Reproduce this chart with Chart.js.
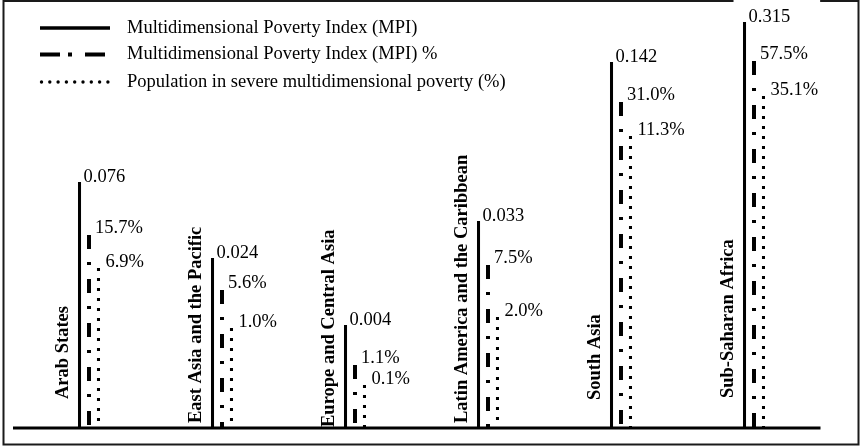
<!DOCTYPE html>
<html lang="en">
<head>
  <meta charset="UTF-8">
  <title>Multidimensional poverty by region</title>
  <script src="https://cdn.jsdelivr.net/npm/chart.js"></script>
  <style>
    body { margin: 0; background: #fff; }
    canvas { display: block; }
  </style>
</head>
<body>
  <canvas id="mpiChart" width="860" height="447"></canvas>

  <script>
    // regions and series
    const regions = ['Arab States', 'East Asia and the Pacific', 'Europe and Central Asia',
      'Latin America and the Caribbean', 'South Asia', 'Sub-Saharan Africa'];
    const seriesNames = ['Multidimensional Poverty Index (MPI)',
      'Multidimensional Poverty Index (MPI) %',
      'Population in severe multidimensional poverty (%)'];

    // printed values
    const mpiLabels = ['0.076', '0.024', '0.004', '0.033', '0.142', '0.315'];
    const mpiPctLabels = ['15.7%', '5.6%', '1.1%', '7.5%', '31.0%', '57.5%'];
    const severeLabels = ['6.9%', '1.0%', '0.1%', '2.0%', '11.3%', '35.1%'];

    // drawn line heights - the original is not to scale, so these are read off the picture
    const mpiHeights = [246, 170, 103, 207, 366, 406];
    const mpiPctHeights = [193, 138, 63, 163, 326, 367];
    const severeHeights = [160, 100, 43, 111, 292, 332];

    const FONT = '"Liberation Serif", "Times New Roman", serif';
    const valueLabels = [mpiLabels, mpiPctLabels, severeLabels];
    const labelShift = [[4, -5], [6, -7], [7, -6]];   // dx, dy of value text from line top
    const regionLift = [29, 5, 1, 5, 28, 30];          // how far each rotated name sits above the axis

    // 1px wide tiles for the dash-dot and dotted lines
    function stripe(period, marks) {
      const c = document.createElement('canvas');
      c.width = 1;
      c.height = period;
      const g = c.getContext('2d');
      g.fillStyle = '#000';
      marks.forEach(m => g.fillRect(0, m[0], 1, m[1]));
      return c;
    }
    const dashDotTile = stripe(44, [[0, 14], [27, 3]]);
    const dotTile = stripe(10, [[0, 3]]);

    function patternFill(tile) {
      return (ctx) => {
        const chart = ctx.chart;
        const p = chart.ctx.createPattern(tile, 'repeat');
        if (ctx.type === 'data' && chart.scales.y && ctx.parsed) {
          const top = chart.scales.y.getPixelForValue(ctx.parsed.y);
          p.setTransform(new DOMMatrix().translate(0, top));
        }
        return p;
      };
    }

    const figurePlugin = {
      id: 'figure',
      beforeDraw(chart) {
        const c = chart.ctx;
        c.save();
        c.fillStyle = '#fff';
        c.fillRect(0, 0, chart.width, chart.height);
        c.strokeStyle = '#1a1a1a';
        c.lineWidth = 2;
        c.strokeRect(3.5, 1, 855, 443.5);
        c.restore();
      },
      beforeDatasetsDraw(chart) {
        // white text boxes behind the values (the top one cuts the frame, as in the original)
        const c = chart.ctx;
        c.save();
        c.font = '18.5px ' + FONT;
        c.fillStyle = '#fff';
        chart.data.datasets.forEach((ds, s) => {
          chart.getDatasetMeta(s).data.forEach((bar, i) => {
            const x = bar.x + labelShift[s][0];
            const y = bar.y + labelShift[s][1];
            const w = c.measureText(valueLabels[s][i]).width;
            c.fillRect(x - 15, y - 21, w + 45, 31);
          });
        });
        c.restore();
      },
      afterDatasetsDraw(chart) {
        const c = chart.ctx;
        const area = chart.chartArea;
        const y0 = chart.scales.y.getPixelForValue(0);
        c.save();

        // axis line
        c.strokeStyle = '#000';
        c.lineWidth = 3;
        c.beginPath();
        c.moveTo(area.left - 9.5, y0);
        c.lineTo(area.right, y0);
        c.stroke();

        // values at the top of each line
        c.fillStyle = '#000';
        c.font = '18.5px ' + FONT;
        c.textAlign = 'left';
        c.textBaseline = 'middle';
        chart.data.datasets.forEach((ds, s) => {
          chart.getDatasetMeta(s).data.forEach((bar, i) => {
            c.fillText(valueLabels[s][i], bar.x + labelShift[s][0], bar.y + labelShift[s][1]);
          });
        });

        // rotated region names left of each group
        c.font = 'bold 18.5px ' + FONT;
        chart.getDatasetMeta(0).data.forEach((bar, i) => {
          c.save();
          c.translate(bar.x - 16, y0 - regionLift[i]);
          c.rotate(-Math.PI / 2);
          c.fillText(regions[i], 0, 0);
          c.restore();
        });

        // legend
        const rows = [28, 54.5, 82];
        c.font = '18.5px ' + FONT;
        seriesNames.forEach((name, s) => {
          const y = rows[s];
          c.strokeStyle = '#000';
          c.lineCap = 'butt';
          if (s === 0) {
            c.lineWidth = 3.5;
            c.setLineDash([]);
            c.beginPath(); c.moveTo(40, y); c.lineTo(110, y); c.stroke();
          } else if (s === 1) {
            c.lineWidth = 4;
            c.setLineDash([20, 8, 4, 13]);
            c.beginPath(); c.moveTo(40, y); c.lineTo(110, y); c.stroke();
            c.setLineDash([]);
          } else {
            for (let k = 0; k < 9; k++) {
              c.beginPath();
              c.arc(41.5 + k * 8.3, y, 1.7, 0, Math.PI * 2);
              c.fill();
            }
          }
          c.fillText(name, 127, y);
        });
        c.restore();
      }
    };

    const ctx = document.getElementById('mpiChart').getContext('2d');
    new Chart(ctx, {
      type: 'bar',
      data: {
        labels: regions,
        datasets: [
          { label: seriesNames[0], data: mpiHeights, backgroundColor: '#000', barPercentage: 0.32 },
          { label: seriesNames[1], data: mpiPctHeights, backgroundColor: patternFill(dashDotTile), barPercentage: 0.42 },
          { label: seriesNames[2], data: severeHeights, backgroundColor: patternFill(dotTile), barPercentage: 0.32 }
        ]
      },
      options: {
        responsive: false,
        animation: false,
        layout: { padding: { left: 22.5, right: 39.5, top: 18, bottom: 19 } },
        datasets: { bar: { categoryPercentage: 0.214 } },
        plugins: {
          legend: { display: false },
          tooltip: { enabled: false }
        },
        scales: {
          x: { display: false },
          y: { display: false, min: 0, max: 410 }
        }
      },
      plugins: [figurePlugin]
    });
  </script>
</body>
</html>
